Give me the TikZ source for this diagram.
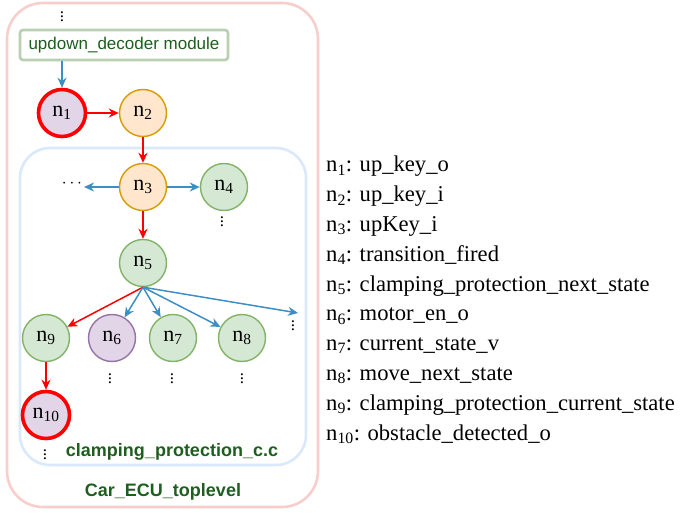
\documentclass[tikz,border=0pt]{standalone}
\usepackage{fontspec}
\setmainfont{Liberation Serif}
\setsansfont{Liberation Sans}
\usetikzlibrary{arrows.meta}
\definecolor{topred}{HTML}{F8CECC}
\definecolor{fileblue}{HTML}{DAE8FC}
\definecolor{modgreen}{HTML}{B9CFB3}
\definecolor{txtgreen}{HTML}{1E5E1E}
\definecolor{flowblue}{HTML}{3D8EC2}
\definecolor{purplefill}{HTML}{E1D5E7}
\definecolor{purpleline}{HTML}{9673A6}
\definecolor{orangefill}{HTML}{FFE6CC}
\definecolor{orangeline}{HTML}{D79B00}
\definecolor{greenfill}{HTML}{D5E8D4}
\definecolor{greenline}{HTML}{82B366}
\tikzset{
  var/.style={circle,minimum size=47pt,inner sep=0pt,line width=1.4pt,
    font=\fontsize{22}{24}\selectfont},
  purplevar/.style={var,fill=purplefill,draw=purpleline},
  orangevar/.style={var,fill=orangefill,draw=orangeline},
  greenvar/.style={var,fill=greenfill,draw=greenline},
  critvar/.style={var,fill=purplefill,draw=red,line width=3.6pt},
  flow/.style={-{Stealth[length=10pt,width=9pt]},line width=1.5pt,color=flowblue},
  crit/.style={-{Stealth[length=10pt,width=9pt]},line width=1.5pt,color=red},
  more/.style={inner sep=0pt,font=\fontsize{17}{17}\selectfont}
}
\begin{document}
\begin{tikzpicture}[x=1pt,y=-1pt]
  \useasboundingbox (0,0) rectangle (683,513);
  % hierarchy boxes
  \draw[topred,line width=2.6pt,rounded corners=36pt] (7,3) rectangle (318,507);
  \draw[fileblue,line width=2.6pt,rounded corners=30pt] (20,148) rectangle (306,465);
  \node[draw=modgreen,line width=2.6pt,rounded corners=3pt,fill=white,
    minimum width=208pt,minimum height=30pt,inner sep=0pt,
    font=\sffamily\fontsize{17}{17}\selectfont,text=txtgreen] (dec) at (124,45) {updown\_decoder module};
  \node[more] (dtop) at (62,14) {$\vdots$};
  \node[font=\sffamily\bfseries\fontsize{18}{18}\selectfont,text=txtgreen] (fname) at (172,452) {clamping\_protection\_c.c};
  \node[font=\sffamily\bfseries\fontsize{18}{18}\selectfont,text=txtgreen] (tname) at (163,492) {Car\_ECU\_toplevel};

  % variables
  \node[critvar] (n1) at (62,113) {n\textsubscript{1}};
  \node[orangevar] (n2) at (143,113) {n\textsubscript{2}};
  \node[orangevar] (n3) at (143,187) {n\textsubscript{3}};
  \node[greenvar] (n4) at (224,187) {n\textsubscript{4}};
  \node[greenvar] (n5) at (143,263) {n\textsubscript{5}};
  \node[purplevar] (n6) at (112,338) {n\textsubscript{6}};
  \node[greenvar] (n7) at (173,338) {n\textsubscript{7}};
  \node[greenvar] (n8) at (242,338) {n\textsubscript{8}};
  \node[greenvar] (n9) at (46,338) {n\textsubscript{9}};
  \node[critvar] (n10) at (46,415) {n\textsubscript{10}};

  \node[more] (cleft) at (72,184) {$\cdots$};
  \coordinate (left) at (84,187);
  \coordinate (right) at (298,313);
  \node[more] (d4) at (222,219) {$\vdots$};
  \node[more] (dright) at (293,323) {$\vdots$};
  \node[more] (d6) at (110,376) {$\vdots$};
  \node[more] (d7) at (172,376) {$\vdots$};
  \node[more] (d8) at (242,376) {$\vdots$};
  \node[more] (d10) at (45,452) {$\vdots$};

  % edges
  \draw[flow] (dec.south -| n1) -- (n1);
  \draw[crit] (n1) -- (n2);
  \draw[crit] (n2) -- (n3);
  \draw[flow] (n3) -- (left);
  \draw[flow] (n3) -- (n4);
  \draw[crit] (n3) -- (n5);
  \draw[crit] (n5.south) -- (n9);
  \draw[flow] (n5.south) -- (n6);
  \draw[flow] (n5.south) -- (n7);
  \draw[flow] (n5.south) -- (n8);
  \draw[flow] (n5.south) -- (right);
  \draw[crit] (n9) -- (n10);

  % legend
  \node[anchor=north west,align=left,inner sep=0pt,
    font=\fontsize{22.6}{29.8}\selectfont] (legend) at (326,156) {%
    n\textsubscript{1}: up\_key\_o\\
    n\textsubscript{2}: up\_key\_i\\
    n\textsubscript{3}: upKey\_i\\
    n\textsubscript{4}: transition\_fired\\
    n\textsubscript{5}: clamping\_protection\_next\_state\\
    n\textsubscript{6}: motor\_en\_o\\
    n\textsubscript{7}: current\_state\_v\\
    n\textsubscript{8}: move\_next\_state\\
    n\textsubscript{9}: clamping\_protection\_current\_state\\
    n\textsubscript{10}: obstacle\_detected\_o};
\end{tikzpicture}
\end{document}
